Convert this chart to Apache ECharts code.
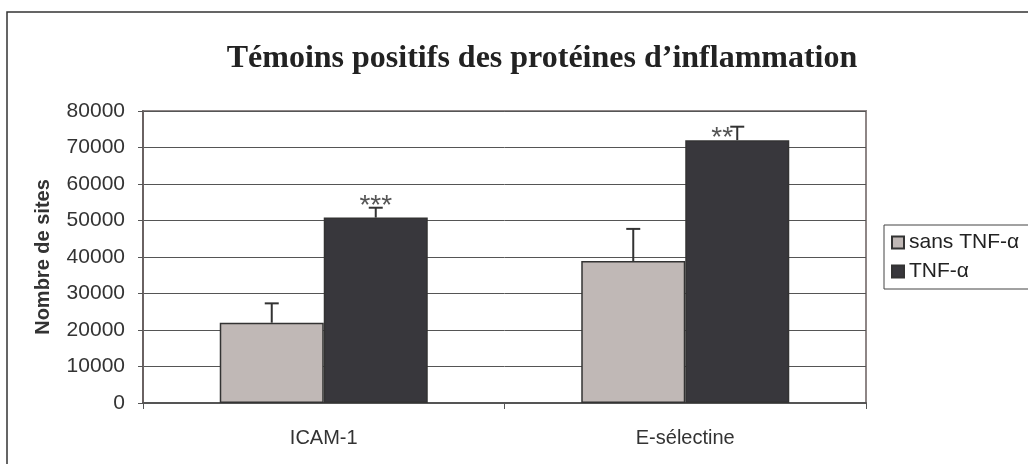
<!DOCTYPE html>
<html>
<head>
<meta charset="utf-8">
<script src="https://cdn.jsdelivr.net/npm/echarts@6/dist/echarts.min.js"></script>
<style>
  html, body { margin: 0; padding: 0; background: #fff; }
  #chart { width: 1028px; height: 464px; }
</style>
</head>
<body>
<div id="chart"></div>
<script>
const categories = ['ICAM-1', 'E-sélectine'];
const sansTnf = [22000, 38900];
const sansTnfErr = [5300, 8800];
const tnf = [50800, 72000];
const tnfErr = [2700, 3700];
const signif = ['***', '**'];
const yTicks = [0, 10000, 20000, 30000, 40000, 50000, 60000, 70000, 80000];

const font = '"Liberation Sans", Arial, sans-serif';
const halfBar = 52; // barWidth / 2
// where the stars sit, relative to the top of the error bar
const starOffsets = [[0, -1], [-15, 12]];

// error bars only go up, like in the original
function errorBars(side, withStars) {
  return function (params, api) {
    const i = api.value(0);
    const base = api.coord([i, api.value(1)]);
    const top = api.coord([i, api.value(2)]);
    const x = base[0] + side * halfBar;
    const children = [
      { type: 'line', shape: { x1: x, y1: base[1], x2: x, y2: top[1] },
        style: { stroke: '#333', lineWidth: 2 } },
      { type: 'line', shape: { x1: x - 7, y1: top[1], x2: x + 7, y2: top[1] },
        style: { stroke: '#333', lineWidth: 2 } }
    ];
    if (withStars) {
      const off = starOffsets[i];
      children.push({
        type: 'text',
        style: {
          text: signif[i], x: x + off[0], y: top[1] + off[1],
          align: 'center', verticalAlign: 'middle',
          font: '28px ' + font, fill: '#555'
        }
      });
    }
    return { type: 'group', children: children };
  };
}

const chart = echarts.init(document.getElementById('chart'));
chart.setOption({
  animation: false,
  backgroundColor: '#fff',
  title: {
    text: 'Témoins positifs des protéines d’inflammation',
    left: 537, top: 38, textAlign: 'center',
    textStyle: { fontFamily: '"Liberation Serif", "Times New Roman", serif', fontWeight: 'bold', fontSize: 32, color: '#222' }
  },
  graphic: [{
    type: 'rect', silent: true,
    shape: { x: 7, y: 12, width: 1200, height: 600 },
    style: { fill: 'none', stroke: '#333', lineWidth: 1.5 }
  }],
  legend: {
    data: ['sans TNF-α', 'TNF-α'],
    orient: 'vertical', left: 884, top: 225,
    itemWidth: 12, itemHeight: 12, itemGap: 8,
    padding: [7, 60, 7, 7],
    borderColor: '#444', borderWidth: 1,
    icon: 'rect',
    textStyle: { fontFamily: font, fontSize: 21, color: '#222' }
  },
  grid: {
    left: 143, right: 162, top: 111, bottom: 61,
    show: true, borderColor: '#8e8686', borderWidth: 2
  },
  xAxis: {
    type: 'category', data: categories,
    axisLine: { lineStyle: { color: '#555', width: 2 } },
    axisTick: { show: true, length: 6, alignWithLabel: false, lineStyle: { color: '#555' } },
    axisLabel: { margin: 25, fontFamily: font, fontSize: 20, color: '#333' }
  },
  yAxis: {
    type: 'value', min: yTicks[0], max: yTicks[yTicks.length - 1], interval: 10000,
    name: 'Nombre de sites', nameLocation: 'middle', nameGap: 90,
    nameTextStyle: { fontFamily: font, fontSize: 20, fontWeight: 'bold', color: '#333' },
    axisLine: { show: true, lineStyle: { color: '#6a6262', width: 2 } },
    axisTick: { show: true, length: 5, lineStyle: { color: '#555' } },
    axisLabel: { margin: 18, fontFamily: font, fontSize: 21, color: '#333', formatter: v => String(v) },
    splitLine: { lineStyle: { color: '#555', width: 1 } }
  },
  series: [
    {
      name: 'sans TNF-α', type: 'bar', data: sansTnf,
      barWidth: 104, barGap: '0%',
      itemStyle: { color: '#c0b8b6', borderColor: '#333', borderWidth: 1.5 }
    },
    {
      name: 'TNF-α', type: 'bar', data: tnf,
      barWidth: 104,
      itemStyle: { color: '#38373c', borderColor: '#333', borderWidth: 1.5 }
    },
    {
      type: 'custom', z: 5,
      renderItem: errorBars(-1, false),
      data: sansTnf.map((v, i) => [i, v, v + sansTnfErr[i]])
    },
    {
      type: 'custom', z: 5,
      renderItem: errorBars(1, true),
      data: tnf.map((v, i) => [i, v, v + tnfErr[i]])
    }
  ]
});
</script>
</body>
</html>
